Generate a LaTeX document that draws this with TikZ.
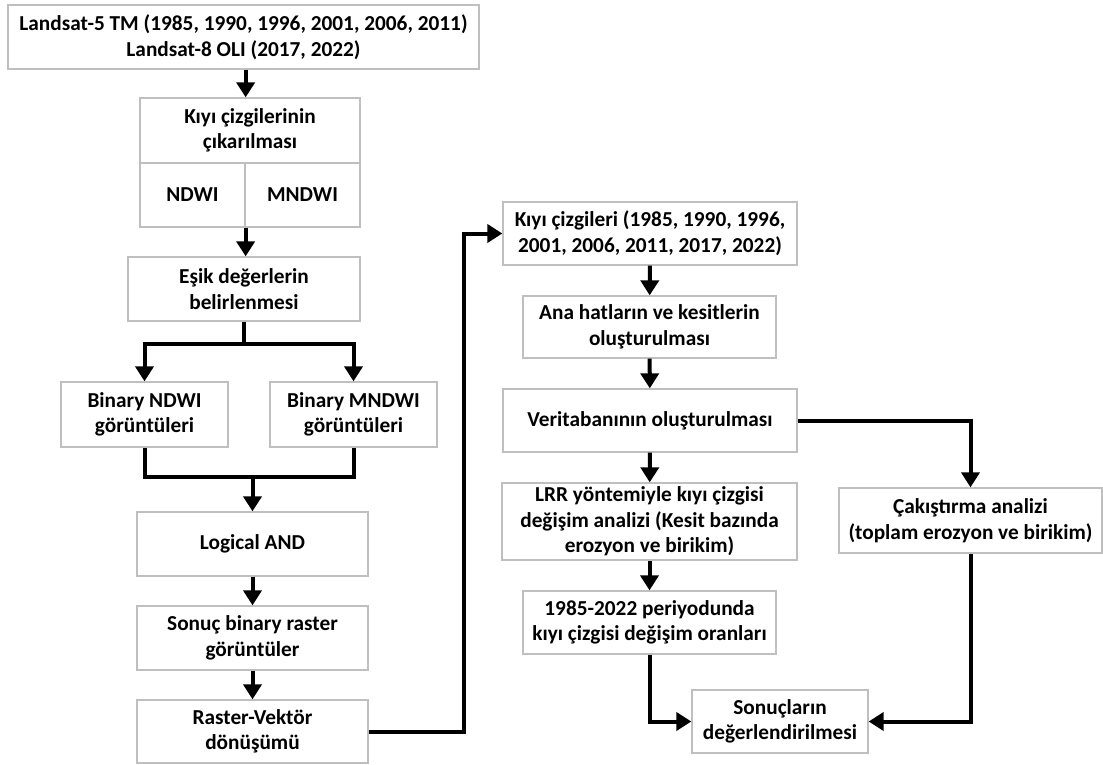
\documentclass[tikz,border=0pt]{standalone}
\usepackage{fontspec}
\setmainfont{Carlito}
\usepackage{tikz}
\usetikzlibrary{arrows.meta,positioning,calc}
\definecolor{ink}{HTML}{000000}
\definecolor{frame}{HTML}{BFBFBF}

\begin{document}
\begin{tikzpicture}[
  x=1pt, y=-1pt,
  font=\fontsize{21.3}{25.6}\selectfont\bfseries,
  box/.style={draw=frame, line width=1.3pt, fill=white, text=ink, align=center, inner sep=2pt},
  ln/.style={draw=ink, line width=4pt},
  arr/.style={ln, -{Triangle[length=15pt, width=18pt]}}]
\useasboundingbox (0,0) rectangle (1103,765);
% left column
\node[box, minimum width=471, minimum height=64] (src) at (243.5,37)
  {Landsat-5 TM (1985, 1990, 1996, 2001, 2006, 2011)\\Landsat-8 OLI (2017, 2022)};
\node[box, minimum width=220, minimum height=65] (ext) at (250,130.5) {Kıyı çizgilerinin\\çıkarılması};
\node[box, minimum width=105, minimum height=64] (ndwi) at (192.5,195) {NDWI};
\node[box, minimum width=115, minimum height=64] (mndwi) at (302.5,195) {MNDWI};
\node[box, minimum width=232, minimum height=64] (esik) at (244,289) {Eşik değerlerin\\belirlenmesi};
\node[box, minimum width=167, minimum height=65] (bndwi) at (144.5,414.5) {Binary NDWI\\görüntüleri};
\node[box, minimum width=167, minimum height=65] (bmndwi) at (353.5,414.5) {Binary MNDWI\\görüntüleri};
\node[box, minimum width=231, minimum height=64] (and) at (252.5,544) {Logical AND};
\node[box, minimum width=231, minimum height=64] (sonuc) at (252.5,638) {Sonuç binary raster\\görüntüler};
\node[box, minimum width=231, minimum height=63] (rv) at (252.5,731.5) {Raster-Vektör\\dönüşümü};
% right part
\node[box, minimum width=294, minimum height=63] (kiyi) at (650,233.5) {Kıyı çizgileri (1985, 1990, 1996,\\2001, 2006, 2011, 2017, 2022)};
\node[box, minimum width=253, minimum height=62] (ana) at (649.5,327) {Ana hatların ve kesitlerin\\oluşturulması};
\node[box, minimum width=294, minimum height=63] (veri) at (650,420.5) {Veritabanının oluşturulması};
\node[box, minimum width=295, minimum height=77] (lrr) at (649.5,521.5) {LRR yöntemiyle kıyı çizgisi\\değişim analizi (Kesit bazında\\erozyon ve birikim)};
\node[box, minimum width=253, minimum height=63] (oran) at (649.5,622.5) {1985-2022 periyodunda\\kıyı çizgisi değişim oranları};
\node[box, minimum width=263, minimum height=65] (cak) at (970.5,520.5) {Çakıştırma analizi\\(toplam erozyon ve birikim)};
\node[box, minimum width=176, minimum height=63] (sonuc2) at (780,721.5) {Sonuçların\\değerlendirilmesi};

\draw[arr] (src.south -| ndwi.east) -- (ext.north -| ndwi.east);
\draw[arr] (ndwi.south east) -- (esik.north -| ndwi.south east);
\draw[arr] (esik.south) -- ++(0,22) -| (bndwi.north);
\draw[arr] (esik.south) -- ++(0,22) -| (bmndwi.north);
\path (and.north) ++(0,-34) coordinate (mrg);
\draw[ln] (bndwi.south) |- (mrg) -| (bmndwi.south);
\draw[arr] (mrg) -- (and.north);
\draw[arr] (and) -- (sonuc);
\draw[arr] (sonuc) -- (rv);
\draw[arr] (rv.east) -- ++(95,0) |- (kiyi.west);
\draw[arr] (kiyi) -- (ana);
\draw[arr] (ana) -- (veri);
\draw[arr] (veri) -- (lrr);
\draw[arr] (lrr) -- (oran);
\draw[arr] (veri.east) -| (cak.north);
\draw[arr] (oran.south) |- (sonuc2.west);
\draw[arr] (cak.south) |- (sonuc2.east);
\end{tikzpicture}
\end{document}
